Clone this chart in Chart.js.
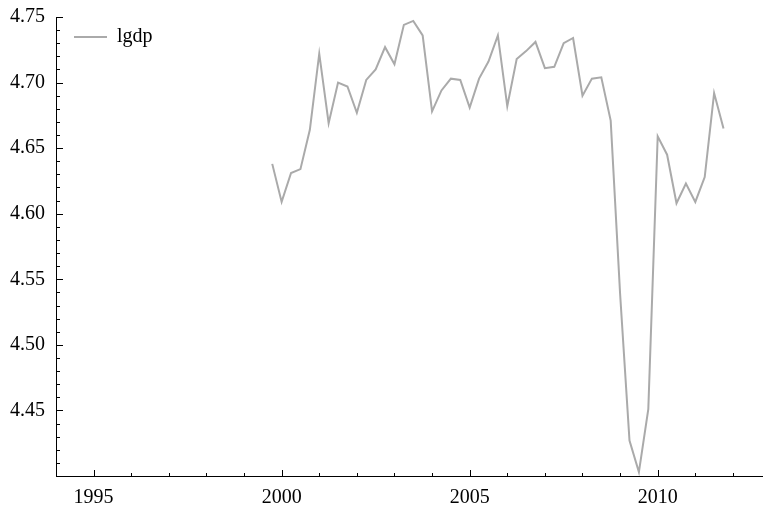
<!DOCTYPE html>
<html>
<head>
<meta charset="utf-8">
<script src="https://cdn.jsdelivr.net/npm/chart.js@4.4.1/dist/chart.umd.min.js"></script>
<style>
  html, body { margin: 0; padding: 0; background: #fff; }
  #wrap { width: 763px; height: 506px; }
</style>
</head>
<body>
<div id="wrap"><canvas id="grafico"></canvas></div>
<script>
// quarterly series, 1999Q4 .. 2011Q4
const quarters = [
  '1999Q4',
  '2000Q1', '2000Q2', '2000Q3', '2000Q4',
  '2001Q1', '2001Q2', '2001Q3', '2001Q4',
  '2002Q1', '2002Q2', '2002Q3', '2002Q4',
  '2003Q1', '2003Q2', '2003Q3', '2003Q4',
  '2004Q1', '2004Q2', '2004Q3', '2004Q4',
  '2005Q1', '2005Q2', '2005Q3', '2005Q4',
  '2006Q1', '2006Q2', '2006Q3', '2006Q4',
  '2007Q1', '2007Q2', '2007Q3', '2007Q4',
  '2008Q1', '2008Q2', '2008Q3', '2008Q4',
  '2009Q1', '2009Q2', '2009Q3', '2009Q4',
  '2010Q1', '2010Q2', '2010Q3', '2010Q4',
  '2011Q1', '2011Q2', '2011Q3', '2011Q4'
];
const lgdp = [
  4.638,
  4.609, 4.631, 4.634, 4.664,
  4.722, 4.669, 4.700, 4.697,
  4.677, 4.702, 4.710, 4.727,
  4.714, 4.744, 4.747, 4.736,
  4.678, 4.694, 4.703, 4.702,
  4.681, 4.703, 4.716, 4.736,
  4.682, 4.718, 4.724, 4.731,
  4.711, 4.712, 4.730, 4.734,
  4.690, 4.703, 4.704, 4.671,
  4.539, 4.427, 4.403, 4.451,
  4.659, 4.645, 4.608, 4.623,
  4.609, 4.628, 4.692, 4.665
];
const xTicks = [1995, 2000, 2005, 2010];
const yTicks = [4.45, 4.50, 4.55, 4.60, 4.65, 4.70, 4.75];

function quarterToYear(q) {
  const [y, n] = q.split('Q');
  return Number(y) + (Number(n) - 1) / 4;
}

const FONT = { family: "'Liberation Serif', 'DejaVu Serif', serif", size: 20 };

// tick marks pointing into the plot, like the original
const tickMarks = {
  id: 'tickMarks',
  afterLayout(chart) {
    // put the legend near the top left corner of the plot
    if (chart.legend) {
      const dy = chart.chartArea.top - 8 - chart.legend.top;
      chart.legend.top += dy;
      chart.legend.bottom += dy;
    }
  },
  afterDraw(chart) {
    const { ctx, chartArea, scales } = chart;
    const x = scales.x, y = scales.y;
    ctx.save();
    ctx.strokeStyle = '#000';
    ctx.lineWidth = 1;
    ctx.beginPath();
    for (let yr = Math.ceil(x.min); yr <= x.max; yr++) {
      const px = Math.round(x.getPixelForValue(yr)) + 0.5;
      const len = yr % 5 === 0 ? 6 : 3;
      ctx.moveTo(px, chartArea.bottom);
      ctx.lineTo(px, chartArea.bottom - len);
    }
    for (let k = Math.round(y.min * 100); k <= Math.round(y.max * 100); k++) {
      const py = Math.round(y.getPixelForValue(k / 100)) + 0.5;
      const len = k % 5 === 0 ? 7 : 4;
      ctx.moveTo(chartArea.left, py);
      ctx.lineTo(chartArea.left + len, py);
    }
    ctx.stroke();
    ctx.restore();
  }
};

const ctx = document.getElementById('grafico').getContext('2d');
new Chart(ctx, {
  type: 'line',
  data: {
    datasets: [{
      label: 'lgdp',
      data: quarters.map((q, i) => ({ x: quarterToYear(q), y: lgdp[i] })),
      borderColor: '#aaaaaa',
      backgroundColor: '#aaaaaa',
      borderWidth: 2,
      pointRadius: 0,
      pointStyle: 'line',
      tension: 0
    }]
  },
  options: {
    responsive: true,
    maintainAspectRatio: false,
    animation: false,
    layout: { padding: { top: 17, right: 0, left: 0, bottom: 0 } },
    plugins: {
      legend: {
        position: 'chartArea',
        align: 'start',
        labels: {
          usePointStyle: true,
          pointStyleWidth: 33,
          padding: 18,
          color: '#000',
          font: FONT
        }
      },
      tooltip: { enabled: false }
    },
    scales: {
      x: {
        type: 'linear',
        min: 1994,
        max: 2012.8,
        afterBuildTicks: s => { s.ticks = xTicks.map(v => ({ value: v })); },
        afterFit: s => { s.height = 30; s.paddingLeft = 0; s.paddingRight = 0; },
        grid: { display: false, drawTicks: false },
        border: { display: true, color: '#000', width: 1 },
        ticks: { color: '#000', font: FONT, padding: 10, maxRotation: 0, callback: v => String(v) }
      },
      y: {
        type: 'linear',
        min: 4.40,
        max: 4.75,
        afterBuildTicks: s => { s.ticks = yTicks.map(v => ({ value: v })); },
        afterFit: s => { s.width = 56; s.paddingTop = 0; s.paddingBottom = 0; },
        grid: { display: false, drawTicks: false },
        border: { display: true, color: '#000', width: 1 },
        ticks: { color: '#000', font: FONT, padding: 11, callback: v => Number(v).toFixed(2) }
      }
    }
  },
  plugins: [tickMarks]
});
</script>
</body>
</html>
